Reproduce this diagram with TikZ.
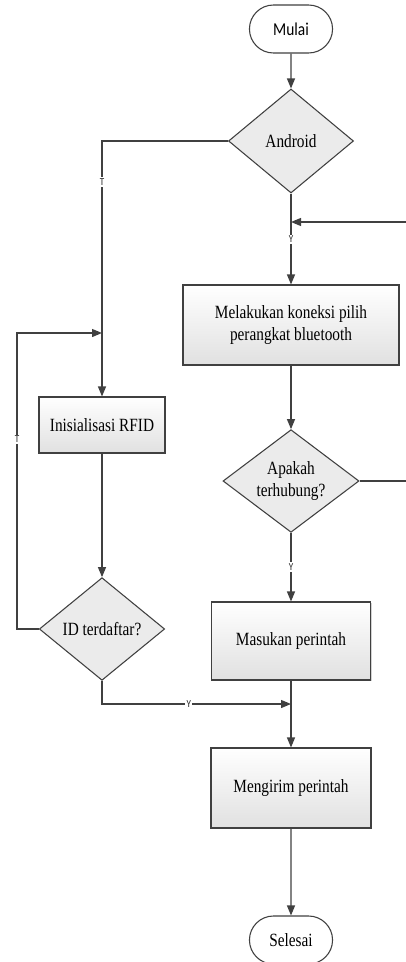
\documentclass[tikz,border=0pt]{standalone}
\usepackage{fontspec}
\setmainfont{Liberation Serif}[FakeStretch=0.82]
\newfontfamily\labelfont{Carlito}[FakeStretch=0.85]
\usepackage{tikz}
\usetikzlibrary{positioning,shapes.geometric,shapes.misc,arrows.meta,shadows}

\begin{document}
\begin{tikzpicture}[x=0.75pt,y=-0.75pt,font=\fontsize{14}{17}\selectfont,
    line/.style={draw=black!75,line width=0.9pt},
    arr/.style={line,-{Triangle[length=7.5pt,width=6pt]}},
    terminal/.style={rounded rectangle,draw=black!75,line width=0.8pt,minimum width=69pt,minimum height=36pt,fill=white},
    process/.style={draw=black!75,line width=0.8pt,top color=white,bottom color=black!12,
        drop shadow={shadow xshift=1pt,shadow yshift=-1pt,fill=black!35},align=center},
    decision/.style={diamond,draw=black!75,line width=0.8pt,fill=black!8,inner sep=0pt,aspect=1.3,align=center},
    lbl/.style={font=\labelfont\fontsize{8}{9}\selectfont,text=black!85,fill=white,inner sep=1pt}]
    \useasboundingbox (0,0) rectangle (406,962);

    \node[terminal,font=\labelfont\fontsize{13.6}{16}\selectfont] (mulai) at (291,29) {Mulai};
    \node[decision,minimum width=93.75pt,minimum height=78pt] (android) at (291,141) {Android};
    \node[process,minimum width=162pt,minimum height=60pt] (koneksi) at (291,325) {Melakukan koneksi pilih\\perangkat bluetooth};
    \node[decision,minimum width=102pt,minimum height=77pt] (hubung) at (291,481) {Apakah\\terhubung?};
    \node[process,minimum width=119pt,minimum height=58.5pt] (masukan) at (291,641) {Masukan perintah};
    \node[process,minimum width=120pt,minimum height=60pt] (kirim) at (291,788) {Mengirim perintah};
    \node[terminal] (selesai) at (291,940) {Selesai};
    \node[process,minimum width=94.5pt,minimum height=42pt] (rfid) at (102,425) {Inisialisasi RFID};
    \node[decision,minimum width=94pt,minimum height=77pt] (terdaftar) at (102,629) {ID terdaftar?};

    \coordinate (m1) at (291,222);
    \coordinate (m2) at (102,333);
    \coordinate (m3) at (291,704);
    \coordinate (back) at (420,481);
    \coordinate (loop) at (17,333);

    \draw[arr] (mulai) -- (android);
    \draw[line] (android) -- (m1);
    \draw[arr] (m1) -- node[lbl,pos=0.28]{Y} (koneksi);
    \draw[arr] (hubung.east) -- (back) |- (m1);
    \draw[arr] (android.west) -| node[lbl,pos=0.58]{T} (rfid.north);
    \draw[arr] (koneksi) -- (hubung);
    \draw[arr] (hubung) -- node[lbl]{Y} (masukan);
    \draw[arr] (rfid) -- (terdaftar);
    \draw[arr] (terdaftar.west) -| node[lbl,pos=0.82]{T} (loop) -- (m2);
    \draw[arr] (terdaftar.south) |- node[lbl,pos=0.73]{Y} (m3);
    \draw[line] (masukan) -- (m3);
    \draw[arr] (m3) -- (kirim);
    \draw[arr] (kirim) -- (selesai);
\end{tikzpicture}
\end{document}
